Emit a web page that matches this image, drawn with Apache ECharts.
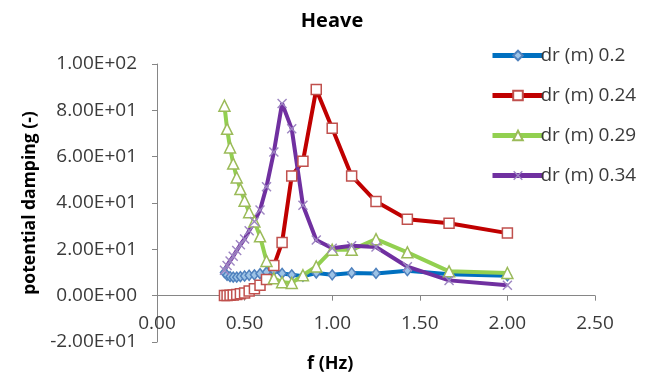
<!DOCTYPE html>
<html>
<head>
<meta charset="utf-8" />
<script src="https://cdn.jsdelivr.net/npm/echarts@6/dist/echarts.min.js"></script>
<style>
  html, body { margin: 0; padding: 0; background: #fff; }
  #chart { width: 652px; height: 381px; }
</style>
</head>
<body>
<div id="chart"></div>
<script>
// frequency grid shared by all four cases (Hz)
const freq = [0.385, 0.4, 0.417, 0.435, 0.455, 0.476, 0.5, 0.526, 0.556, 0.588, 0.625,
  0.667, 0.714, 0.769, 0.833, 0.909, 1.0, 1.111, 1.25, 1.429, 1.667, 2.0];

const dr020 = [10, 8.8, 8.2, 8.0, 8.0, 8.2, 8.5, 8.8, 9.0, 9.5, 10.2,
  10.8, 9.6, 9.0, 8.4, 9.8, 9.0, 9.8, 9.6, 10.8, 9.2, 8.6];
const dr024 = [0.1, 0.1, 0.2, 0.3, 0.5, 0.8, 1.2, 2.0, 3.0, 4.5, 7.0,
  13, 23, 51.7, 58, 89, 72.3, 51.7, 40.6, 33, 31.3, 27];
const dr029 = [82, 72, 64, 57, 51, 46, 41, 36, 32, 25.6, 15,
  7.5, 5.8, 5.5, 8.8, 12.6, 19.8, 19.8, 24.4, 18.7, 10.5, 9.8];
const dr034 = [11, 13, 15, 17, 19.5, 22, 24.5, 28, 32, 37, 47,
  62, 83, 72, 39, 24, 20.5, 21.5, 21, 12.5, 6.6, 4.5];

const seriesNames = ["dr (m) 0.2", "dr (m) 0.24", "dr (m) 0.29", "dr (m) 0.34"];
const xTicks = { min: 0, max: 2.5, step: 0.5 };
const yTicks = { min: -20, max: 100, step: 20 };

const fontFamily = "'Open Sans', sans-serif";
const textColor = "#3a3a3a";
const axisColor = "#868686";
const crossPath = "path://M0,1L1,0L5,4L9,0L10,1L6,5L10,9L9,10L5,6L1,10L0,9L4,5Z";

function sci(v) {
  if (v === 0) return "0.00E+00";
  const e = Math.floor(Math.log10(Math.abs(v)));
  const m = v / Math.pow(10, e);
  return m.toFixed(2) + "E" + (e < 0 ? "-" : "+") + String(Math.abs(e)).padStart(2, "0");
}

function pairs(values) {
  return freq.map((f, i) => [f, values[i]]);
}

function lineSeries(name, values, color, symbol, size, markerStyle) {
  return {
    name,
    type: "line",
    data: pairs(values),
    symbol,
    symbolSize: size,
    showAllSymbol: true,
    lineStyle: { color, width: 4 },
    itemStyle: markerStyle,
    z: 2,
  };
}

const chart = echarts.init(document.getElementById("chart"), null, { renderer: "canvas" });

chart.setOption({
  animation: false,
  backgroundColor: "#fff",
  title: {
    text: "Heave",
    left: 327,
    top: 6,
    textAlign: "center",
    textStyle: { fontFamily, fontSize: 20, fontWeight: "bold", color: "#000" },
  },
  graphic: [
    {
      type: "text",
      left: 307,
      top: 355,
      style: { text: "f (Hz)", font: "bold 18px 'Open Sans', sans-serif", fill: "#000" },
    },
  ],
  legend: {
    orient: "vertical",
    left: 485,
    top: 41,
    itemWidth: 51,
    itemHeight: 12,
    itemGap: 21,
    lineStyle: { width: 5 },
    textStyle: { fontFamily, fontSize: 19, color: textColor, padding: [0, 0, 0, -8] },
    data: seriesNames,
  },
  grid: { left: 157, right: 57, top: 64, bottom: 39 },
  xAxis: {
    type: "value",
    min: xTicks.min,
    max: xTicks.max,
    interval: xTicks.step,
    axisLine: { onZero: true, lineStyle: { color: axisColor, width: 1 } },
    axisTick: { show: true, length: 5, lineStyle: { color: axisColor } },
    splitLine: { show: false },
    axisLabel: {
      margin: -28,
      fontFamily,
      fontSize: 19,
      color: textColor,
      formatter: (v) => v.toFixed(2),
    },
  },
  yAxis: {
    type: "value",
    min: yTicks.min,
    max: yTicks.max,
    interval: yTicks.step,
    name: "potential damping (-)",
    nameLocation: "middle",
    nameGap: 116,
    nameTextStyle: { fontFamily, fontSize: 17.5, fontWeight: "bold", color: "#000" },
    axisLine: { show: true, lineStyle: { color: axisColor, width: 1 } },
    axisTick: { show: true, length: 5, lineStyle: { color: axisColor } },
    splitLine: { show: false },
    axisLabel: {
      margin: 20,
      fontFamily,
      fontSize: 19,
      color: textColor,
      formatter: sci,
    },
  },
  series: [
    lineSeries(seriesNames[0], dr020, "#0070C0", "diamond", [8, 10],
      { color: "#9dc3e6", borderColor: "#4F81BD", borderWidth: 1.5 }),
    lineSeries(seriesNames[1], dr024, "#C00000", "rect", 10,
      { color: "#fff", borderColor: "#C0504D", borderWidth: 1.5 }),
    lineSeries(seriesNames[2], dr029, "#92D050", "triangle", 11,
      { color: "#fff", borderColor: "#9BBB59", borderWidth: 1.5 }),
    lineSeries(seriesNames[3], dr034, "#7030A0", crossPath, 10,
      { color: "#9d85c2", borderWidth: 0 }),
  ],
});
</script>
</body>
</html>
